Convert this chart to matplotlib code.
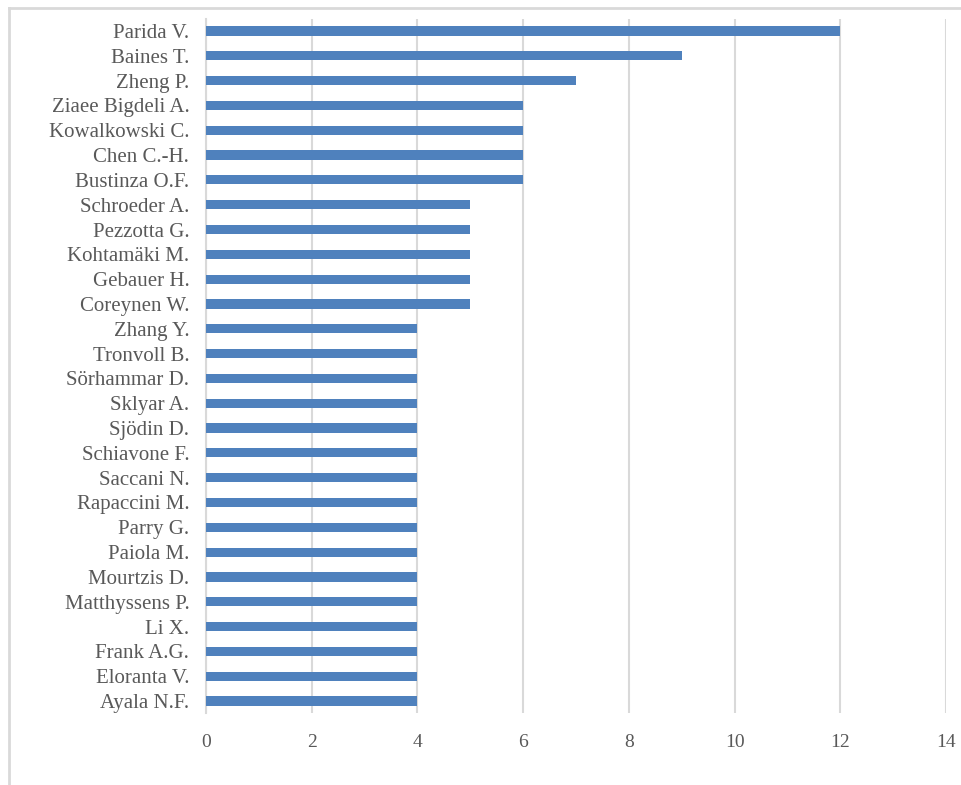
import matplotlib.pyplot as plt
from matplotlib.lines import Line2D

authors = ["Parida V.", "Baines T.", "Zheng P.", "Ziaee Bigdeli A.", "Kowalkowski C.",
           "Chen C.-H.", "Bustinza O.F.", "Schroeder A.", "Pezzotta G.", "Kohtamäki M.",
           "Gebauer H.", "Coreynen W.", "Zhang Y.", "Tronvoll B.", "Sörhammar D.",
           "Sklyar A.", "Sjödin D.", "Schiavone F.", "Saccani N.", "Rapaccini M.",
           "Parry G.", "Paiola M.", "Mourtzis D.", "Matthyssens P.", "Li X.",
           "Frank A.G.", "Eloranta V.", "Ayala N.F."]
documents = [12, 9, 7, 6, 6, 6, 6, 5, 5, 5, 5, 5,
             4, 4, 4, 4, 4, 4, 4, 4, 4, 4, 4, 4, 4, 4, 4, 4]
xticks = [0, 2, 4, 6, 8, 10, 12, 14]

plt.rcParams['font.family'] = ['Liberation Serif', 'DejaVu Serif']

fig = plt.figure(figsize=(9.61, 7.85), dpi=100)
ax = fig.add_axes([206 / 961, 1 - 713.4 / 785, 740 / 961, 694.8 / 785])

pos = list(range(len(authors)))
ax.barh(pos, documents, height=0.37, color='#4f81bd', zorder=3)
ax.set_ylim(len(authors) - 0.5, -0.5)
ax.set_yticks(pos)
ax.set_yticklabels(authors, fontsize=15, color='#595959')
ax.set_xlim(0, 14)
ax.set_xticks(xticks)
ax.set_xticklabels([str(t) for t in xticks], fontsize=14, color='#595959')
ax.tick_params(axis='both', length=0)
ax.tick_params(axis='x', pad=15)
ax.tick_params(axis='y', pad=12)
ax.grid(axis='x', color='#d9d9d9', linewidth=1.5, zorder=0)
for s in ['top', 'right', 'bottom']:
    ax.spines[s].set_visible(False)
ax.spines['left'].set_color('#d9d9d9')
ax.spines['left'].set_linewidth(1.5)

# outer chart border (only top and left visible in the crop)
fig.add_artist(Line2D([9 / 961, 9 / 961], [0, 1 - 8 / 785], transform=fig.transFigure,
                      color='#d9d9d9', linewidth=2))
fig.add_artist(Line2D([9 / 961, 1], [1 - 8 / 785, 1 - 8 / 785], transform=fig.transFigure,
                      color='#d9d9d9', linewidth=2))

fig.savefig('out.png', dpi=100)
